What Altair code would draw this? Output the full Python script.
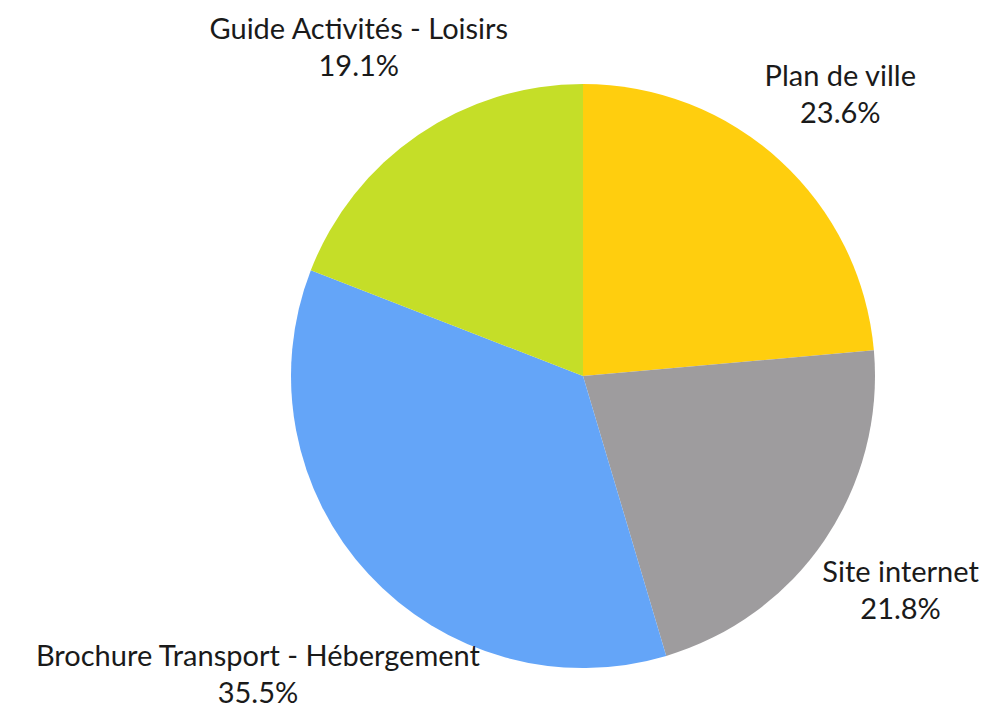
import altair as alt
import pandas as pd
import math

categories = ["Plan de ville", "Site internet", "Brochure Transport - Hébergement", "Guide Activités - Loisirs"]
values = [23.6, 21.8, 35.5, 19.1]
colors = ["#FFCE0E", "#9E9C9E", "#64A5F8", "#C5DE28"]

# label distance from centre (layout only)
label_radius = [381, 384, 442, 397]

df = pd.DataFrame({"cat": categories, "val": values})
df["end"] = df["val"].cumsum()
df["start"] = df["end"] - df["val"]
df["mid"] = (df["start"] + df["end"]) / 2
df["label"] = [f"{c}\n{v:.1f}%" for c, v in zip(categories, values)]
df["lr"] = label_radius

theta_scale = alt.Scale(domain=[0, 100], range=[0, 2 * math.pi])

pie = alt.Chart(df).mark_arc(outerRadius=292).encode(
    theta=alt.Theta("start:Q", scale=theta_scale, stack=None),
    theta2="end:Q",
    color=alt.Color("cat:N", scale=alt.Scale(domain=categories, range=colors), legend=None),
)

text = alt.Chart(df).mark_text(
    font="Lato", fontSize=29, lineBreak="\n", lineHeight=37, dy=-18.5,
    align="center", baseline="middle", color="#1a1a1a",
).encode(
    theta=alt.Theta("mid:Q", scale=theta_scale, stack=None),
    radius=alt.Radius("lr:Q", scale=None),
    text="label:N",
)

chart = (pie + text).properties(
    width=600, height=600,
    autosize=alt.AutoSizeParams(type="none"),
    padding={"left": 275, "top": 68, "right": 98, "bottom": 35},
).configure_view(stroke=None).configure(background="white")

chart.save("out.html", embed_options={"renderer": "svg", "actions": False})
